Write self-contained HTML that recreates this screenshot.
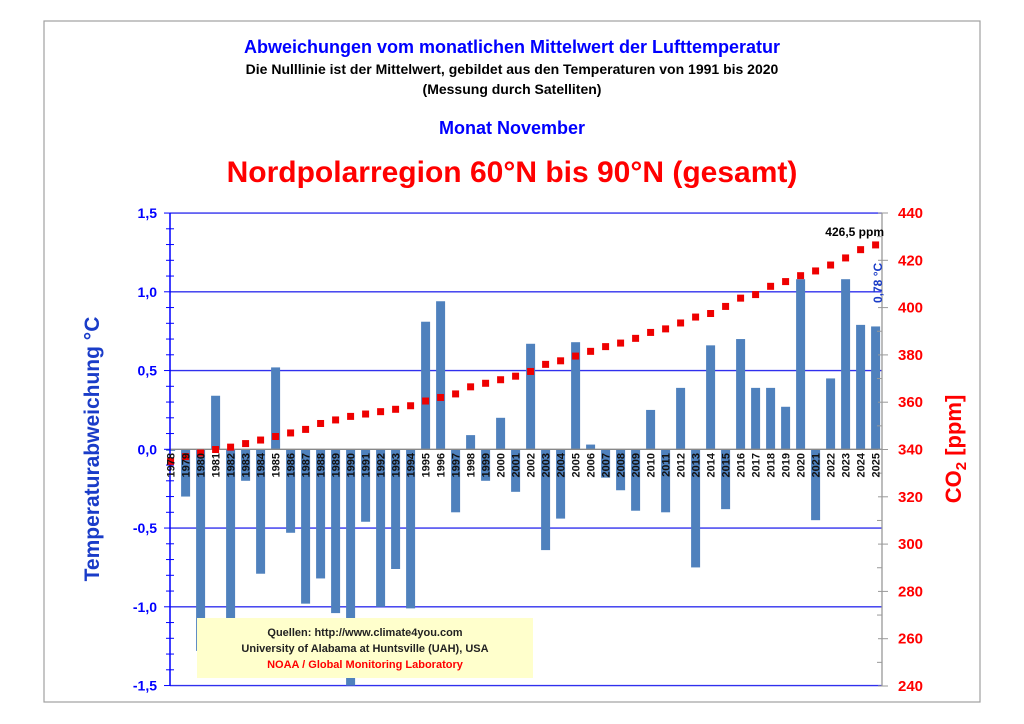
<!DOCTYPE html>
<html><head><meta charset="utf-8"><style>body{margin:0;background:#fff}svg{display:block}text{font-family:"Liberation Sans",Arial,sans-serif;font-weight:bold}</style></head><body>
<svg id="s" width="1024" height="724" xmlns="http://www.w3.org/2000/svg">
<rect x="44" y="21" width="936" height="681" fill="none" stroke="#a0a0a0" stroke-width="1.2"/>
<text x="512" y="53" text-anchor="middle" font-size="18" fill="#0000ff">Abweichungen vom monatlichen Mittelwert der Lufttemperatur</text>
<text x="512" y="74" text-anchor="middle" font-size="14" fill="#000">Die Nulllinie ist der Mittelwert, gebildet aus den Temperaturen von 1991 bis 2020</text>
<text x="512" y="94" text-anchor="middle" font-size="14" fill="#000">(Messung durch Satelliten)</text>
<text x="512" y="134" text-anchor="middle" font-size="18" fill="#0000ff">Monat November</text>
<text x="512" y="182" text-anchor="middle" font-size="30" fill="#ff0000">Nordpolarregion 60°N bis 90°N (gesamt)</text>
<text transform="translate(99,449) rotate(-90)" text-anchor="middle" font-size="21" fill="#1a3cc8">Temperaturabweichung °C</text>
<text transform="translate(961,449) rotate(-90)" text-anchor="middle" font-size="22" fill="#ff0000">CO<tspan font-size="15" dy="5">2</tspan><tspan dy="-5"> [ppm]</tspan></text>
<g id="g"></g>
<rect x="197" y="618" width="336" height="60" fill="#ffffcc"/>
<text x="365" y="636" text-anchor="middle" font-size="11" fill="#222">Quellen: http://www.climate4you.com</text>
<text x="365" y="652" text-anchor="middle" font-size="11" fill="#222">University of Alabama at Huntsville (UAH), USA</text>
<text x="365" y="668" text-anchor="middle" font-size="11" fill="#ff0000">NOAA / Global Monitoring Laboratory</text>
<text x="884" y="236" text-anchor="end" font-size="12" fill="#000">426,5 ppm</text>
<text transform="translate(882,303) rotate(-90)" font-size="12" fill="#1a3cc8">0,78 °C</text>
</svg>
<script>
var g=document.getElementById('g'),h='';
var Y=function(v){return 449.3-v*157.5};
var C=function(c){return 686-(c-240)*2.365};
var T=[-0.01,-0.30,-1.28,0.34,-1.1,-0.2,-0.79,0.52,-0.53,-0.98,-0.82,-1.04,-1.5,-0.46,-1.0,-0.76,-1.01,0.81,0.94,-0.40,0.09,-0.2,0.20,-0.27,0.67,-0.64,-0.44,0.68,0.03,-0.18,-0.26,-0.39,0.25,-0.40,0.39,-0.75,0.66,-0.38,0.70,0.39,0.39,0.27,1.08,-0.45,0.45,1.08,0.79,0.78];
var CO=[335,337,338.5,340,341,342.5,344,345.5,347,348.5,351,352.5,354,355,356,357,358.5,360.5,362,363.5,366.5,368,369.5,371,373,376,377.5,379.5,381.5,383.5,385,387,389.5,391,393.5,396,397.5,400.5,404,405.5,409,411,413.5,415.5,418,421,424.5,426.5];
[1.5,1,0.5,-0.5,-1,-1.5].forEach(function(v){h+='<line x1="170" x2="882" y1="'+Y(v)+'" y2="'+Y(v)+'" stroke="#3030ee" stroke-width="1.3"/>'});
for(var i=0;i<48;i++){var x=170.6+15*i,v=T[i],y0=Y(0),y1=Y(v);h+='<rect x="'+(x-4.5)+'" y="'+Math.min(y0,y1)+'" width="9" height="'+Math.max(Math.abs(y1-y0),0.8)+'" fill="#4f81bd"/>';}
h+='<line x1="170" x2="882" y1="449.3" y2="449.3" stroke="#888" stroke-width="1.3"/>';
h+='<line x1="170" x2="170" y1="213" y2="686" stroke="#0000ff" stroke-width="1.5"/>';
for(var k=-15;k<=15;k++){var y=Y(k/10);h+='<line x1="'+(k%5?166:164)+'" x2="'+(k%5?174:170)+'" y1="'+y+'" y2="'+y+'" stroke="#0000ff"/>';}
['1,5','1,0','0,5','0,0','-0,5','-1,0','-1,5'].forEach(function(t,j){h+='<text x="157" y="'+(Y(1.5-j*0.5)+5)+'" text-anchor="end" font-size="14" fill="#0000ff">'+t+'</text>'});
h+='<line x1="882" x2="882" y1="213" y2="686" stroke="#999" stroke-width="1.3"/>';
for(var c=240;c<=440;c+=10){var y=C(c);h+='<line x1="'+(c%20?877:878)+'" x2="'+(c%20?882:888)+'" y1="'+y+'" y2="'+y+'" stroke="#999"/>';if(c%20==0)h+='<text x="898" y="'+(y+5)+'" font-size="15" fill="#ff0000">'+c+'</text>';}
for(var i=0;i<48;i++){var x=170.6+15*i;h+='<rect x="'+(x-3.5)+'" y="'+(C(CO[i])-3.5)+'" width="7" height="7" fill="#ee0000"/>';
h+='<text transform="translate('+(x+4)+',453) rotate(-90)" text-anchor="end" font-size="11" fill="#111">'+(1978+i)+'</text>';}
g.innerHTML=h;
</script>
</body></html>
